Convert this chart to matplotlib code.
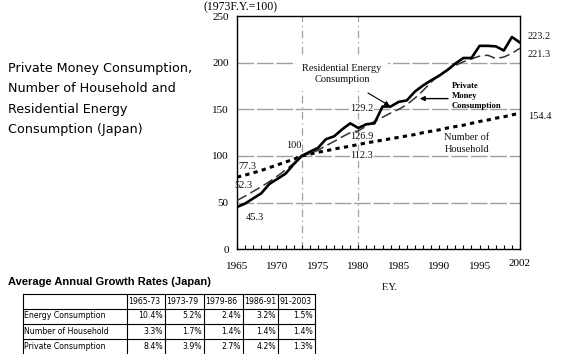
import matplotlib
matplotlib.use("Agg")
import matplotlib.pyplot as plt
import numpy as np

# ---------------- data ----------------
years = list(range(1965, 2001))
energy = [45.3, 49, 54.5, 60, 70, 75.5, 81, 91, 100, 104.5, 108.5, 118, 121, 128.5,
          135, 130, 134, 135, 153, 153, 158, 159.5, 169, 175.5, 181, 186, 192, 199,
          205, 205, 218, 218, 217.5, 213, 227.5, 221.5]
private = [52.3, 57, 62, 67, 72.5, 78.5, 85, 92, 100, 102.5, 106, 111, 115.5, 120.5,
           125, 126.9, 132, 137, 141.5, 146, 150, 155, 162, 170, 179, 187, 192, 197,
           201, 204, 207, 208, 204.5, 206, 210, 215.5]
households = [77.3, 79.5, 82, 84.5, 87.5, 90.5, 93.5, 96.5, 100, 102, 104, 105.5,
              107.5, 109, 110.5, 112.3, 114, 115.5, 117, 118.5, 120, 121.5, 123, 125,
              126.5, 128, 130, 131.5, 133, 135, 137, 138.5, 140.5, 142, 144, 146]

xtick_pos = [1965, 1970, 1975, 1980, 1985, 1990, 1995, 2000]
xtick_labels = ["1965", "1970", "1975", "1980", "1985", "1990", "1995", "2002"]
yticks = [0, 50, 100, 150, 200, 250]

periods = ["1965-73", "1973-79", "1979-86", "1986-91", "91-2003"]
row_names = ["Energy Consumption", "Number of Household", "Private Consumption"]
energy_rates = ["10.4%", "5.2%", "2.4%", "3.2%", "1.5%"]
household_rates = ["3.3%", "1.7%", "1.4%", "1.4%", "1.4%"]
private_rates = ["8.4%", "3.9%", "2.7%", "4.2%", "1.3%"]

W, H = 561, 354
fig = plt.figure(figsize=(W / 100, H / 100), dpi=100)

serif = "Liberation Serif"

# ---------------- chart ----------------
L, R, T, B = 237, 520, 16, 249.3
ax = fig.add_axes([L / W, 1 - B / H, (R - L) / W, (B - T) / H])
ax.set_xlim(1965, 2000)
ax.set_ylim(0, 250)

for y in [50, 100, 150, 200]:
    ax.axhline(y, color="#a0a0a0", lw=1.0, ls=(0, (12, 2)), zorder=1)
for x in [1973, 1980]:
    ax.axvline(x, color="#a0a0a0", lw=0.9, ls=(0, (6, 3, 1, 3)), zorder=1)

ax.plot(years, households, color="black", lw=2.2, ls=(0, (1.4, 1.4)), zorder=3)
ax.plot(years, private, color="#333333", lw=1.1, ls=(0, (7, 3)), zorder=3)
ax.plot(years, energy, color="black", lw=1.9, zorder=4)

ax.set_xticks(xtick_pos)
ax.set_xticklabels(xtick_labels, family=serif, fontsize=8)
ax.set_xticks(years, minor=True)
ax.tick_params(axis="x", which="both", direction="in", length=3, width=0.8, pad=9)
ax.set_yticks(yticks)
ax.set_yticklabels([str(v) for v in yticks], family=serif, fontsize=8)
ax.tick_params(axis="y", length=0, pad=6)
for s in ax.spines.values():
    s.set_linewidth(1.0)
ax.get_xticklabels()[-1].set_y(0.012)

tkw = dict(family=serif, fontsize=7.5, color="#111111", zorder=5)
wb = dict(facecolor="white", edgecolor="none", pad=0.6)
ax.text(1980.45, 151.4, "129.2", ha="center", va="center", bbox=wb, **tkw)
ax.text(1980.45, 121.4, "126.9", ha="center", va="center", **tkw)
ax.text(1980.45, 100, "112.3", ha="center", va="center", bbox=wb, **tkw)
ax.text(1972.05, 110.7, "100", ha="center", va="center", **tkw)
ax.text(1966.3, 88.2, "77.3", ha="center", va="center", **tkw)
ax.text(1965.8, 68.9, "52.3", ha="center", va="center", **tkw)
ax.text(1967.2, 34.6, "45.3", ha="center", va="center", **tkw)
ax.text(1978.0, 188.0, "Residential Energy\nConsumption", ha="center", va="center",
        linespacing=1.3, bbox=dict(facecolor="white", edgecolor="none", pad=4.5), **tkw)
ax.text(1993.4, 113.4, "Number of\nHousehold", ha="center", va="center",
        linespacing=1.35, bbox=dict(facecolor="white", edgecolor="none", pad=0.5), **tkw)
ax.text(1991.6, 164.0, "Private\nMoney\nConsumption", ha="left", va="center",
        family=serif, fontsize=6.2, fontweight="bold", linespacing=1.35, zorder=5)
ax.annotate("", xy=(1983.9, 153.6), xytext=(1981.2, 167.5),
            arrowprops=dict(arrowstyle="-|>", color="black", lw=0.8,
                            mutation_scale=7, shrinkA=0, shrinkB=0), zorder=5)
ax.annotate("", xy=(1987.6, 161.5), xytext=(1991.1, 161.5),
            arrowprops=dict(arrowstyle="-|>", color="black", lw=1.0,
                            mutation_scale=7, shrinkA=0, shrinkB=0), zorder=5)

ax.text(2000.95, 227.5, "223.2", ha="left", va="center", clip_on=False, **tkw)
ax.text(2000.95, 208.3, "221.3", ha="left", va="center", clip_on=False, **tkw)
ax.text(2000.95, 141.8, "154.4", ha="left", va="center", clip_on=False, **tkw)
ax.text(1960.8, 259.7, "(1973F.Y.=100)", ha="left", va="center", clip_on=False,
        family=serif, fontsize=8.5)
ax.text(1983.9, -40.5, "F.Y.", ha="center", va="center", clip_on=False,
        family=serif, fontsize=7.5)

# ---------------- overlay for title and table (pixel coordinates) ----------------
ov = fig.add_axes([0, 0, 1, 1], facecolor="none")
ov.set_xlim(0, W)
ov.set_ylim(H, 0)
ov.axis("off")

title = "Private Money Consumption,\nNumber of Household and\nResidential Energy\nConsumption (Japan)"
ov.text(8, 62, title, ha="left", va="top", family="DejaVu Sans", fontsize=9.2,
        linespacing=1.74)

ov.text(8, 282, "Average Annual Growth Rates (Japan)", ha="left", va="center",
        family="Liberation Sans", fontsize=8, fontweight="bold")

col_x = [22.7, 126.7, 165, 204, 242.7, 278, 315]
row_y = [294, 308.5, 323.5, 338.5, 354]
lk = dict(color="black", lw=0.8)
for y in row_y[:-1]:
    ov.plot([col_x[0], col_x[-1]], [y, y], **lk)
for x in col_x:
    ov.plot([x, x], [row_y[0], row_y[-1]], **lk)

fs = 5.6
fam = "DejaVu Sans"
for j, p in enumerate(periods):
    ov.text(col_x[j + 1] + 1.5, (row_y[0] + row_y[1]) / 2, p, ha="left", va="center",
            family=fam, fontsize=fs)
table_rows = [energy_rates, household_rates, private_rates]
for i, (name, vals) in enumerate(zip(row_names, table_rows)):
    yc = (row_y[i + 1] + row_y[i + 2]) / 2
    ov.text(col_x[0] + 1.5, yc, name, ha="left", va="center", family=fam, fontsize=fs)
    for j, v in enumerate(vals):
        ov.text(col_x[j + 2] - 2, yc, v, ha="right", va="center", family=fam, fontsize=fs)

fig.savefig("out.png", dpi=100)
